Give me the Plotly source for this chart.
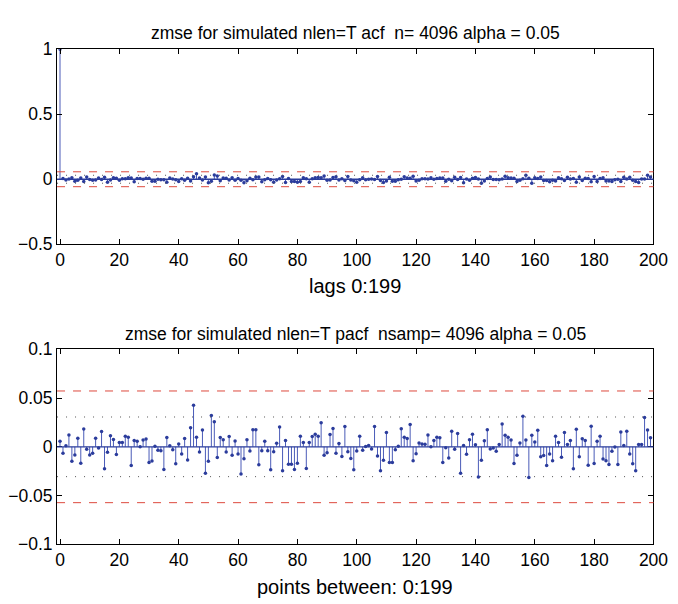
import plotly.graph_objects as go

lags = list(range(200))

pacf_vals = [
    0.0056, -0.0066, 0.0010, 0.0122, -0.0149, -0.0083, 0.0089, -0.0169, 0.0182, -0.0026,
    -0.0083, -0.0066, 0.0089, -0.0013, 0.0156, -0.0225, -0.0056, 0.0113, 0.0076, -0.0079,
    0.0043, 0.0043, 0.0109, 0.0099, -0.0192, 0.0066, 0.0056, 0.0000, 0.0070, 0.0080,
    -0.0162, -0.0146, 0.0007, -0.0036, -0.0040, -0.0232, 0.0096, 0.0010, -0.0030, -0.0175,
    0.0030, -0.0073, 0.0086, -0.0136, 0.0195, 0.0427, 0.0099, -0.0053, 0.0172, -0.0271,
    -0.0149, 0.0321, 0.0258, -0.0109, 0.0096, 0.0073, -0.0053, 0.0106, -0.0086, 0.0060,
    -0.0073, -0.0278, -0.0122, 0.0073, -0.0043, 0.0175, 0.0175, -0.0185, -0.0040, 0.0056,
    -0.0040, -0.0235, -0.0050, 0.0036, 0.0202, -0.0245, 0.0066, -0.0179, -0.0179, -0.0232,
    -0.0169, 0.0109, 0.0043, -0.0222, 0.0043, 0.0106, 0.0129, 0.0109, 0.0248, -0.0086,
    -0.0060, 0.0126, 0.0189, -0.0066, 0.0033, -0.0099, 0.0209, -0.0050, -0.0119, -0.0235,
    -0.0043, 0.0109, -0.0036, 0.0003, 0.0013, -0.0023, 0.0209, -0.0093, -0.0245, -0.0139,
    0.0146, -0.0162, -0.0162, -0.0030, 0.0007, 0.0185, 0.0099, 0.0086, 0.0228, -0.0142,
    -0.0070, 0.0040, 0.0030, 0.0026, 0.0122, 0.0000, 0.0066, 0.0099, 0.0093, -0.0162,
    -0.0010, -0.0116, 0.0159, -0.0026, 0.0136, -0.0271, 0.0013, -0.0076, 0.0073, 0.0129,
    0.0020, -0.0311, -0.0139, 0.0063, 0.0175, -0.0023, -0.0013, -0.0046, 0.0025, 0.0235,
    0.0119, 0.0099, 0.0070, -0.0172, -0.0086, 0.0040, 0.0314, 0.0070, -0.0314, 0.0119,
    0.0050, 0.0169, -0.0103, -0.0089, -0.0192, -0.0073, -0.0142, 0.0109, 0.0043, -0.0106,
    0.0146, 0.0023, 0.0066, -0.0225, 0.0179, -0.0103, 0.0083, 0.0066, -0.0189, 0.0212,
    -0.0172, 0.0056, 0.0109, -0.0126, -0.0142, -0.0182, -0.0046, -0.0003, -0.0182, 0.0152,
    0.0013, 0.0159, -0.0073, -0.0175, -0.0245, 0.0023, 0.0023, 0.0301, 0.0172, 0.0093,
]

acf_vals = [
    1.0000, 0.0056, -0.0066, 0.0010, 0.0122, -0.0149, -0.0083, 0.0089, -0.0169, 0.0182,
    -0.0026, -0.0083, -0.0066, 0.0089, -0.0013, 0.0156, -0.0225, -0.0056, 0.0113, 0.0076,
    -0.0079, 0.0043, 0.0043, 0.0109, 0.0099, -0.0192, 0.0066, 0.0056, 0.0000, 0.0070,
    0.0080, -0.0162, -0.0146, 0.0007, -0.0036, -0.0040, -0.0232, 0.0096, 0.0010, -0.0030,
    -0.0175, 0.0030, -0.0073, 0.0086, -0.0136, 0.0195, 0.0427, 0.0099, -0.0053, 0.0172,
    -0.0271, -0.0149, 0.0321, 0.0258, -0.0109, 0.0096, 0.0073, -0.0053, 0.0106, -0.0086,
    0.0060, -0.0073, -0.0278, -0.0122, 0.0073, -0.0043, 0.0175, 0.0175, -0.0185, -0.0040,
    0.0056, -0.0040, -0.0235, -0.0050, 0.0036, 0.0202, -0.0245, 0.0066, -0.0179, -0.0179,
    -0.0232, -0.0169, 0.0109, 0.0043, -0.0222, 0.0043, 0.0106, 0.0129, 0.0109, 0.0248,
    -0.0086, -0.0060, 0.0126, 0.0189, -0.0066, 0.0033, -0.0099, 0.0209, -0.0050, -0.0119,
    -0.0235, -0.0043, 0.0109, -0.0036, 0.0003, 0.0013, -0.0023, 0.0209, -0.0093, -0.0245,
    -0.0139, 0.0146, -0.0162, -0.0162, -0.0030, 0.0007, 0.0185, 0.0099, 0.0086, 0.0228,
    -0.0142, -0.0070, 0.0040, 0.0030, 0.0026, 0.0122, 0.0000, 0.0066, 0.0099, 0.0093,
    -0.0162, -0.0010, -0.0116, 0.0159, -0.0026, 0.0136, -0.0271, 0.0013, -0.0076, 0.0073,
    0.0129, 0.0020, -0.0311, -0.0139, 0.0063, 0.0175, -0.0023, -0.0013, -0.0046, 0.0025,
    0.0235, 0.0119, 0.0099, 0.0070, -0.0172, -0.0086, 0.0040, 0.0314, 0.0070, -0.0314,
    0.0119, 0.0050, 0.0169, -0.0103, -0.0089, -0.0192, -0.0073, -0.0142, 0.0109, 0.0043,
    -0.0106, 0.0146, 0.0023, 0.0066, -0.0225, 0.0179, -0.0103, 0.0083, 0.0066, -0.0189,
    0.0212, -0.0172, 0.0056, 0.0109, -0.0126, -0.0142, -0.0182, -0.0046, -0.0003, -0.0182,
    0.0152, 0.0013, 0.0159, -0.0073, -0.0175, -0.0245, 0.0023, 0.0023, 0.0301, 0.0172,
]

conf_dotted = 0.0306   # ±1.96/sqrt(n)
conf_dashed = 0.0573

x_ticks = [0, 20, 40, 60, 80, 100, 120, 140, 160, 180, 200]
top_yticks = [-0.5, 0, 0.5, 1]
top_yticktext = ["\u22120.5", "0", "0.5", "1"]
bot_yticks = [-0.1, -0.05, 0, 0.05, 0.1]
bot_yticktext = ["\u22120.1", "\u22120.05", "0", "0.05", "0.1"]

titles = ["zmse for simulated nlen=T acf  n= 4096 alpha = 0.05",
          "zmse for simulated nlen=T pacf  nsamp= 4096 alpha = 0.05"]
xlabels = ["lags 0:199", "points between: 0:199"]

STEM = "#4a5bb8"
MARK = "#2b3c9c"
RED = "#dd4a3e"
FONT = "Liberation Sans, Arial, sans-serif"

W, H = 678, 604
xdom = [47.3 / W, 660.0 / W]
ydoms = [[(H - 234.0) / H, (H - 32.3) / H], [(H - 544.3) / H, (H - 342.7) / H]]

fig = go.Figure()

def stems(xs, ys):
    sx, sy = [], []
    for a, b in zip(xs, ys):
        sx += [a, a, None]
        sy += [0, b, None]
    return sx, sy

for i, vals in enumerate([acf_vals, pacf_vals]):
    xa = "x" if i == 0 else "x2"
    ya = "y" if i == 0 else "y2"
    sx, sy = stems(lags, vals)
    fig.add_trace(go.Scatter(x=sx, y=sy, mode="lines", xaxis=xa, yaxis=ya,
                             line=dict(color=STEM, width=1), hoverinfo="skip", showlegend=False))
    fig.add_trace(go.Scatter(x=lags, y=vals, mode="markers", xaxis=xa, yaxis=ya,
                             marker=dict(color=MARK, size=3.5), showlegend=False))
    xref_d = xa + " domain"
    fig.add_shape(type="line", xref=xref_d, yref=ya, x0=0, x1=1, y0=0, y1=0,
                  line=dict(color=MARK, width=1.3))
    for s in (1, -1):
        fig.add_shape(type="line", xref=xref_d, yref=ya, x0=0, x1=1,
                      y0=s * conf_dotted, y1=s * conf_dotted,
                      line=dict(color="#555555", width=1, dash="1px,8px"))
        fig.add_shape(type="line", xref=xref_d, yref=ya, x0=0, x1=1,
                      y0=s * conf_dashed, y1=s * conf_dashed,
                      line=dict(color=RED, width=1, dash="8px,8px"))

axis_common = dict(showline=True, linecolor="black", linewidth=1, mirror="ticks",
                   ticks="inside", ticklen=5, tickcolor="black", showgrid=False,
                   zeroline=False, tickfont=dict(family=FONT, size=17.5, color="black"))

fig.update_layout(
    width=W, height=H,
    margin=dict(l=0, r=0, t=0, b=0),
    paper_bgcolor="white", plot_bgcolor="white",
    font=dict(family=FONT, color="black"),
    xaxis=dict(domain=xdom, anchor="y", range=[-1, 200], tickvals=x_ticks, **axis_common),
    yaxis=dict(domain=ydoms[0], anchor="x", range=[-0.5, 1], tickvals=top_yticks,
               ticktext=top_yticktext, **axis_common),
    xaxis2=dict(domain=xdom, anchor="y2", range=[-1, 200], tickvals=x_ticks, **axis_common),
    yaxis2=dict(domain=ydoms[1], anchor="x2", range=[-0.1, 0.1], tickvals=bot_yticks,
                ticktext=bot_yticktext, **axis_common),
)

cx = (xdom[0] + xdom[1]) / 2
ann_pos = [(titles[0], (H - 15) / H, 17.5), (xlabels[0], (H - 277) / H, 20),
           (titles[1], (H - 327) / H, 17.5), (xlabels[1], (H - 589) / H, 20)]
for text, yy, sz in ann_pos:
    fig.add_annotation(text=text, x=cx, y=yy, xref="paper", yref="paper",
                       showarrow=False, xanchor="center", yanchor="middle",
                       font=dict(family=FONT, size=sz, color="black"))

fig.write_html("out.html")
